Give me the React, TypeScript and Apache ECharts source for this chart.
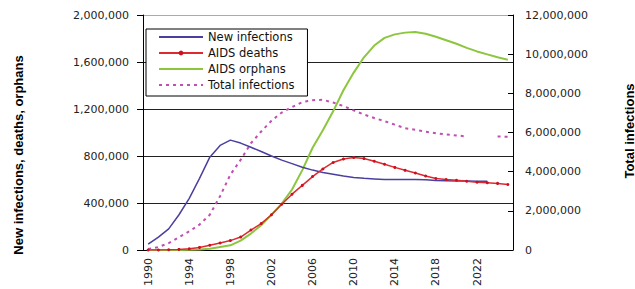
import React, { useEffect, useRef } from "react";
import * as echarts from "echarts";

const years: string[] = [];
for (let y = 1990; y <= 2025; y++) years.push(String(y));

// thousands
const newInfections = [50, 110, 180, 300, 440, 610, 790, 890, 935, 910, 875, 838, 800, 765, 735, 705, 680, 660, 645, 630, 618, 610, 605, 600, 600, 600, 600, 598, 592, 590, 588, 587, 586, 585, null, null];
const aidsDeaths = [0, 0, 2, 5, 10, 22, 40, 60, 80, 110, 170, 225, 300, 390, 475, 550, 625, 690, 745, 775, 787, 778, 755, 730, 703, 678, 655, 630, 608, 600, 594, 585, 577, 572, 567, 557];
const aidsOrphans = [0, 0, 0, 0, 2, 5, 10, 25, 40, 80, 140, 210, 300, 395, 515, 680, 870, 1020, 1180, 1360, 1510, 1640, 1740, 1805, 1835, 1850, 1855, 1840, 1815, 1785, 1755, 1720, 1690, 1665, 1640, 1620];
// millions
const totalInfections = [0.05, 0.15, 0.35, 0.65, 0.95, 1.3, 1.8, 2.75, 3.85, 4.6, 5.45, 6.05, 6.6, 7.02, 7.3, 7.55, 7.65, 7.67, 7.53, 7.35, 7.13, 6.92, 6.74, 6.58, 6.4, 6.22, 6.14, 6.04, 5.96, 5.9, 5.85, 5.8, null, null, 5.8, 5.78];

const leftTicks = { min: 0, max: 2000000, interval: 400000 };
const rightTicks = { min: 0, max: 12000000, interval: 2000000 };

const fmt = (v: number) => Math.round(v).toLocaleString("en-US");

export default function App() {
  const ref = useRef<HTMLDivElement>(null);
  useEffect(() => {
    if (!ref.current) return;
    const chart = echarts.init(ref.current, undefined, { renderer: "svg" });
    const font = "DejaVu Sans";
    chart.setOption({
      animation: false,
      backgroundColor: "#fff",
      grid: { left: 143, right: 122, top: 15, bottom: 36, containLabel: false },
      legend: {
        left: 146,
        top: 29,
        orient: "vertical",
        itemWidth: 44,
        itemHeight: 6,
        itemGap: 2,
        padding: [1, 13, 4, 12],
        borderColor: "#000",
        borderWidth: 1,
        backgroundColor: "#fff",
        textStyle: { fontFamily: font, fontSize: 11.5, color: "#111", lineHeight: 14 },
        data: [
          { name: "New infections", itemStyle: { opacity: 0 } },
          { name: "AIDS deaths" },
          { name: "AIDS orphans", itemStyle: { opacity: 0 } },
          { name: "Total infections", itemStyle: { opacity: 0 } },
        ],
      },
      xAxis: {
        type: "category",
        data: years,
        boundaryGap: true,
        axisLine: { lineStyle: { color: "#000", width: 1 } },
        axisTick: { interval: 0, length: 5, lineStyle: { color: "#000" } },
        axisLabel: {
          interval: 3,
          rotate: 90,
          margin: 8,
          fontFamily: font,
          fontSize: 11,
          color: "#222",
        },
      },
      yAxis: [
        {
          type: "value",
          ...leftTicks,
          axisLine: { show: true, lineStyle: { color: "#000", width: 1 } },
          axisTick: { show: true, length: 6, lineStyle: { color: "#000" } },
          axisLabel: {
            margin: 14,
            fontFamily: font,
            fontSize: 11,
            color: "#222",
            formatter: fmt,
          },
          splitLine: {
            show: true,
            lineStyle: { color: ["#222", "#222", "#222", "#222", "#222", "#aaa"], width: 1 },
          },
        },
        {
          type: "value",
          ...rightTicks,
          position: "right",
          axisLine: { show: true, lineStyle: { color: "#000", width: 1 } },
          axisTick: { show: true, inside: true, length: 5, lineStyle: { color: "#000" } },
          axisLabel: {
            margin: 12,
            fontFamily: font,
            fontSize: 11,
            color: "#222",
            formatter: fmt,
          },
          splitLine: { show: false },
        },
      ],
      series: [
        {
          name: "New infections",
          type: "line",
          yAxisIndex: 0,
          data: newInfections.map((v) => (v == null ? null : v * 1000)),
          symbol: "none",
          lineStyle: { color: "#4a3f9f", width: 1.5 },
          itemStyle: { color: "#4a3f9f" },
          z: 3,
        },
        {
          name: "AIDS deaths",
          type: "line",
          yAxisIndex: 0,
          data: aidsDeaths.map((v) => v * 1000),
          symbol: "circle",
          symbolSize: 3,
          lineStyle: { color: "#dd2a30", width: 1.5 },
          itemStyle: { color: "#cc1020" },
          z: 4,
        },
        {
          name: "AIDS orphans",
          type: "line",
          yAxisIndex: 0,
          data: aidsOrphans.map((v) => v * 1000),
          symbol: "none",
          lineStyle: { color: "#8cc63f", width: 2 },
          itemStyle: { color: "#8cc63f" },
          z: 2,
        },
        {
          name: "Total infections",
          type: "line",
          yAxisIndex: 1,
          data: totalInfections.map((v) => (v == null ? null : v * 1000000)),
          symbol: "none",
          connectNulls: false,
          lineStyle: { color: "#c050b0", width: 2, type: [3, 4] },
          itemStyle: { color: "#c050b0" },
          z: 1,
        },
      ],
      graphic: [
        {
          type: "text",
          x: 18,
          y: 155,
          rotation: Math.PI / 2,
          style: {
            text: "New infections, deaths, orphans",
            font: "bold 13px 'Liberation Sans', Arial, sans-serif",
            fill: "#000",
            align: "center",
            verticalAlign: "middle",
          },
        },
        {
          type: "text",
          x: 629,
          y: 131,
          rotation: Math.PI / 2,
          style: {
            text: "Total infections",
            font: "bold 13px 'Liberation Sans', Arial, sans-serif",
            fill: "#000",
            align: "center",
            verticalAlign: "middle",
          },
        },
      ],
    });
    return () => chart.dispose();
  }, []);
  return <div ref={ref} style={{ width: 635, height: 289, position: "absolute", left: 0, top: 0 }} />;
}
